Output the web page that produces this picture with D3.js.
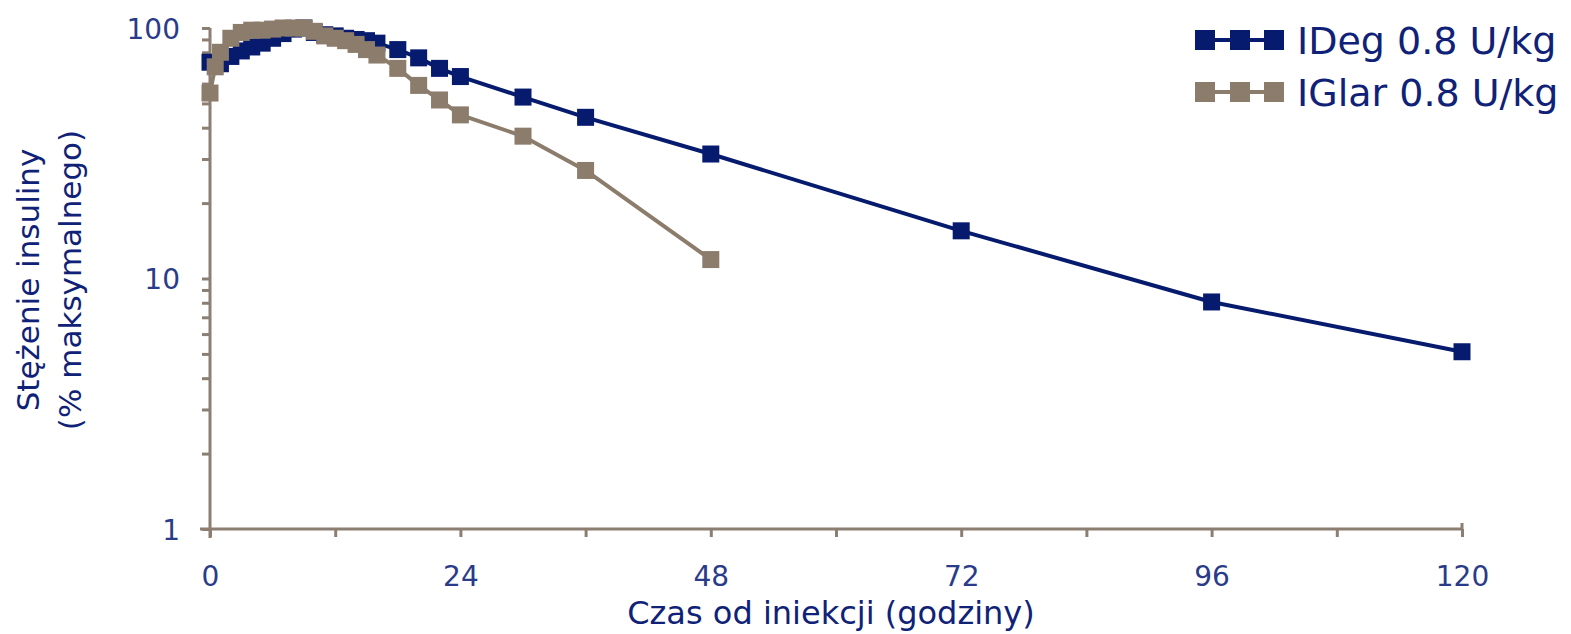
<!DOCTYPE html>
<html><head><meta charset="utf-8">
<script src="https://cdn.jsdelivr.net/npm/d3@7"></script>
<style>
html,body{margin:0;padding:0;background:#fff;}
svg{display:block;}
text{font-family:"DejaVu Sans",Verdana,sans-serif;}
</style></head>
<body>
<svg id="c" width="1571" height="634"></svg>
<script>
const ideg_t = [0,1,2,3,4,5,6,7,8,9,10,11,12,13,14,15,16,18,20,22,24,30,36,48,72,96,120];
const ideg_v = [73,72,77,81,84,87,91,95,99,100,96,94,93,91,90,89,87,82,76,69,64,53,44,31.4,15.5,8.06,5.1];
const iglar_t = [0,0.5,1,2,3,4,5,6,7,8,9,10,11,12,13,14,15,16,18,20,22,24,30,36,48];
const iglar_v = [55,70,80,91,96,98,98,99,100,100,100,97,93,91,89,86,82,78,69,59,51.6,45,37,27,11.9];
const seriesNames = ["IDeg 0.8 U/kg","IGlar 0.8 U/kg"];
const xTicks = [0,12,24,36,48,60,72,84,96,108,120];
const xLabels = [0,24,48,72,96,120];
const yMajor = [1,10,100];
const xTitle = "Czas od iniekcji (godziny)";
const yTitle = ["Stężenie insuliny","(% maksymalnego)"];

const colors = ["#061a6e","#8c7c6c"];
const axisCol = "#8c7f72";
const tickCol = "#2a3b8a";
const titleCol = "#0f2277";

const svg = d3.select("#c");
const x = d3.scaleLinear().domain([0,120]).range([210,1462]);
const y = d3.scaleLog().domain([1,100]).range([529,28]);

const yTicks = [];
for (let d=1; d<100; d*=10) for (let k=1;k<10;k++) yTicks.push(d*k);
yTicks.push(100);

const gy = svg.append("g").attr("transform","translate(210,0)")
  .call(d3.axisLeft(y).tickValues(yTicks).tickSize(8).tickPadding(22)
    .tickFormat(d => yMajor.includes(d) ? String(d) : ""));
gy.select(".domain").attr("stroke",axisCol).attr("stroke-width",3).attr("d","M0,28V538");
gy.selectAll(".tick line").attr("stroke",axisCol).attr("stroke-width",3);
gy.selectAll(".tick text").attr("fill",tickCol).style("font-size","28px").attr("dy","0.36em");

const gx = svg.append("g").attr("transform","translate(0,529)")
  .call(d3.axisBottom(x).tickValues(xTicks).tickSize(8).tickPadding(29)
    .tickFormat(d => xLabels.includes(d) ? String(d) : ""));
gx.select(".domain").attr("stroke",axisCol).attr("stroke-width",3).attr("d","M200,0H1462V-6");
gx.selectAll(".tick line").attr("stroke",axisCol).attr("stroke-width",3);
gx.selectAll(".tick text").attr("fill",tickCol).style("font-size","28px");

svg.append("text").attr("x",831).attr("y",624).attr("text-anchor","middle")
  .attr("fill",titleCol).style("font-size","32px").text(xTitle);
yTitle.forEach((t,i)=>{
  svg.append("text").attr("transform",`translate(${39+i*42},280) rotate(-90)`)
    .attr("text-anchor","middle").attr("fill",titleCol).style("font-size","31px").text(t);
});

const data = [
  ideg_t.map((t,i)=>({t, v: ideg_v[i]})),
  iglar_t.map((t,i)=>({t, v: iglar_v[i]}))
];
const line = d3.line().x(d=>x(d.t)).y(d=>y(d.v));
const ms = 17;
data.forEach((s,i)=>{
  const g = svg.append("g");
  g.append("path").datum(s).attr("d",line).attr("fill","none")
    .attr("stroke",colors[i]).attr("stroke-width",4).attr("stroke-linejoin","round");
  g.selectAll("rect").data(s).join("rect")
    .attr("x",d=>x(d.t)-ms/2).attr("y",d=>y(d.v)-ms/2)
    .attr("width",ms).attr("height",ms).attr("fill",colors[i]);
});

seriesNames.forEach((n,i)=>{
  const cy = 40 + i*52;
  const g = svg.append("g");
  g.append("line").attr("x1",1196).attr("x2",1284).attr("y1",cy).attr("y2",cy)
    .attr("stroke",colors[i]).attr("stroke-width",4);
  [1205,1240,1274].forEach(cx=>{
    g.append("rect").attr("x",cx-10).attr("y",cy-10).attr("width",20).attr("height",20).attr("fill",colors[i]);
  });
  g.append("text").attr("x",1297).attr("y",cy+14).attr("fill",titleCol)
    .style("font-size","38px").text(n);
});
</script>
</body></html>
